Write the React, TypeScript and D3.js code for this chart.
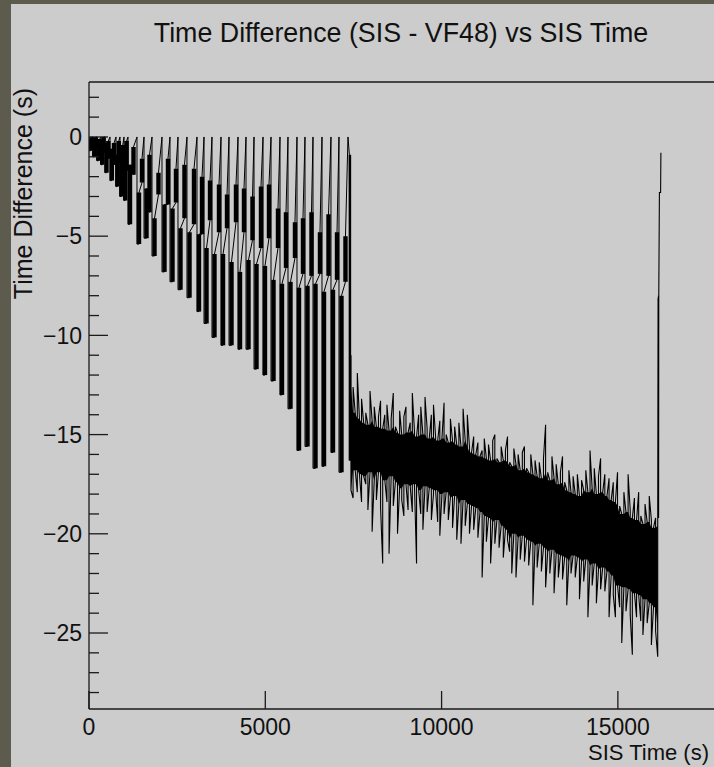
import React, { useEffect } from 'react';
import * as d3 from 'd3';

const W = 714;
const H = 767;
const FONT = '"Liberation Sans", Arial, Helvetica, sans-serif';

const titleText = 'Time Difference (SIS - VF48) vs SIS Time';
const xAxisTitle = 'SIS Time (s)';
const yAxisTitle = 'Time Difference (s)';

// Axis ranges and ticks
const xDomain = [0, 17800];
const yDomain = [2.77, -28.83];
const xMajorTicks = [0, 5000, 10000, 15000];
const yMajorTicks = [0, -5, -10, -15, -20, -25];
const yMinorTicks = [2, 1, -1, -2, -3, -4, -6, -7, -8, -9, -11, -12, -13, -14, -16, -17, -18, -19, -21, -22, -23, -24, -26, -27, -28];

// Sawtooth region (SIS time in s, time difference in s)
const sawResetT = [0, 113, 227, 340, 454, 596, 766, 879, 993, 1106, 1361, 1560, 1787, 2070, 2297, 2524, 2779, 3063, 3262, 3488, 3744, 3971, 4226, 4453, 4680, 4935, 5162, 5417, 5644, 5899, 6126, 6353, 6608, 6863, 7090, 7345];
const sawLowT = [37, 150, 264, 374, 496, 647, 803, 916, 1027, 1163, 1418, 1631, 1858, 2141, 2368, 2595, 2851, 3119, 3333, 3559, 3801, 4042, 4283, 4524, 4751, 4991, 5233, 5473, 5715, 5956, 6197, 6424, 6665, 6920, 7161];
const sawLowTop = [-0.1, -0.2, -0.3, -0.3, -0.3, -0.6, -0.9, -1.2, -0.8, -1.4, -2.8, -2.6, -4.1, -3.4, -3.6, -4.6, -4.8, -4.9, -5.6, -5.9, -5.9, -6.3, -6.8, -6.2, -6.4, -6.5, -7.2, -7.4, -7.3, -7.6, -7.5, -7.4, -7.8, -7.7, -8.0];
const sawLowBot = [-0.7, -1.0, -1.2, -1.4, -1.8, -2.2, -2.5, -3.0, -3.2, -4.4, -5.4, -5.1, -6.0, -6.8, -7.3, -7.7, -8.1, -8.8, -9.4, -10.1, -10.5, -10.5, -10.7, -10.7, -11.7, -12.0, -12.3, -13.0, -13.7, -15.8, -15.6, -16.7, -16.6, -15.9, -16.9];
const sawUpT = [79, 193, 306, 414, 547, 709, 845, 959, 1066, 1262, 1503, 1716, 1971, 2240, 2467, 2708, 2978, 3205, 3432, 3687, 3914, 4169, 4396, 4637, 4878, 5105, 5360, 5587, 5842, 6069, 6310, 6551, 6793, 7034, 7274];
const sawUpTop = [0, 0, -0.1, 0, -0.2, -0.3, -0.2, -0.4, -0.2, -0.5, -1.1, -0.9, -1.8, -1.1, -1.6, -1.4, -1.6, -2.0, -2.2, -2.4, -2.9, -2.4, -2.6, -3.0, -2.5, -2.4, -3.6, -3.8, -4.3, -4.1, -3.8, -4.8, -3.9, -4.8, -5.0];
const sawUpBot = [-0.5, -0.6, -0.8, -0.8, -1.1, -1.4, -1.3, -1.6, -1.7, -1.9, -2.3, -3.8, -2.9, -3.4, -3.3, -4.1, -4.4, -4.9, -4.2, -4.8, -4.6, -4.3, -4.8, -5.2, -5.6, -5.1, -5.6, -6.6, -6.1, -6.9, -7.0, -6.9, -7.0, -7.2, -7.3];

// Drop after the last reset
const dropT = [7385, 7400];
const dropY = [-0.9, -16.3];

// Noisy band region: per sample high/low
const bandT = [7430, 7490, 7550, 7610, 7670, 7730, 7790, 7850, 7910, 7970, 8030, 8090, 8150, 8210, 8270, 8330, 8390, 8450, 8510, 8570, 8630, 8690, 8750, 8810, 8870, 8930, 8990, 9050, 9110, 9170, 9230, 9290, 9350, 9410, 9470, 9530, 9590, 9650, 9710, 9770, 9830, 9890, 9950, 10010, 10070, 10130, 10190, 10250, 10310, 10370, 10430, 10490, 10550, 10610, 10670, 10730, 10790, 10850, 10910, 10970, 11030, 11090, 11150, 11210, 11270, 11330, 11390, 11450, 11510, 11570, 11630, 11690, 11750, 11810, 11870, 11930, 11990, 12050, 12110, 12170, 12230, 12290, 12350, 12410, 12470, 12530, 12590, 12650, 12710, 12770, 12830, 12890, 12950, 13010, 13070, 13130, 13190, 13250, 13310, 13370, 13430, 13490, 13550, 13610, 13670, 13730, 13790, 13850, 13910, 13970, 14030, 14090, 14150, 14210, 14270, 14330, 14390, 14450, 14510, 14570, 14630, 14690, 14750, 14810, 14870, 14930, 14990, 15050, 15110, 15170, 15230, 15290, 15350, 15410, 15470, 15530, 15590, 15650, 15710, 15770, 15830, 15890, 15950, 16010, 16070, 16130];
const bandHi = [-11.0, -12.6, -13.9, -11.9, -14.2, -13.2, -14.4, -13.9, -14.5, -12.8, -14.3, -13.6, -14.6, -14.1, -13.3, -14.7, -14.0, -13.5, -14.8, -14.2, -12.9, -14.6, -14.9, -13.8, -15.0, -14.1, -13.6, -14.9, -14.4, -12.9, -14.8, -15.1, -14.0, -13.6, -15.0, -13.1, -14.7, -15.2, -14.0, -13.5, -15.1, -15.3, -14.3, -15.2, -13.4, -15.0, -15.4, -14.2, -15.3, -14.6, -15.5, -14.4, -15.6, -13.7, -15.3, -14.0, -15.6, -15.9, -15.1, -16.0, -15.4, -16.1, -15.8, -15.2, -16.2, -15.5, -16.3, -15.3, -15.0, -16.2, -16.4, -15.6, -16.3, -15.8, -15.1, -16.4, -16.6, -15.7, -16.5, -16.0, -16.8, -15.9, -15.6, -16.7, -16.9, -16.0, -17.0, -16.3, -17.1, -16.4, -17.2, -16.2, -14.5, -16.9, -17.3, -16.1, -17.2, -16.5, -17.5, -16.9, -16.1, -17.4, -17.8, -16.8, -17.9, -17.1, -18.0, -17.0, -18.1, -17.3, -17.8, -16.8, -17.9, -15.8, -17.7, -16.7, -18.0, -17.1, -16.2, -17.9, -17.0, -18.1, -17.2, -18.3, -17.4, -18.4, -16.9, -18.6, -19.0, -17.9, -18.9, -17.0, -18.8, -19.2, -18.2, -19.3, -17.9, -19.1, -19.5, -18.5, -19.4, -18.1, -19.3, -19.7, -19.2, -19.6];
const bandLo = [-17.8, -18.2, -16.8, -17.9, -17.0, -18.4, -17.1, -17.5, -18.8, -16.9, -19.9, -17.3, -18.3, -16.9, -18.7, -21.5, -17.3, -18.4, -21.0, -17.1, -18.6, -17.4, -20.0, -17.7, -18.3, -19.1, -17.5, -18.8, -17.6, -18.9, -17.5, -21.5, -17.8, -19.0, -19.8, -17.6, -18.9, -17.7, -19.3, -18.0, -17.8, -19.4, -20.1, -18.0, -19.0, -17.9, -19.3, -18.2, -19.7, -18.1, -20.3, -18.5, -20.5, -18.3, -19.6, -18.5, -20.0, -18.6, -19.8, -18.7, -20.2, -18.9, -22.2, -19.1, -20.4, -19.2, -21.5, -19.4, -20.5, -19.3, -20.7, -19.6, -21.2, -19.8, -20.3, -20.9, -22.0, -20.0, -22.2, -20.2, -21.3, -20.1, -21.4, -20.3, -21.6, -20.4, -23.6, -20.6, -21.7, -20.5, -21.9, -20.7, -22.7, -20.9, -22.0, -20.8, -23.0, -21.0, -22.2, -21.1, -22.3, -21.2, -23.6, -21.4, -22.0, -21.1, -22.2, -21.2, -23.3, -21.4, -22.4, -21.3, -24.2, -21.6, -22.6, -21.5, -23.5, -21.8, -22.8, -21.7, -22.9, -21.9, -24.2, -22.1, -23.1, -24.2, -22.6, -23.7, -25.5, -22.7, -23.9, -22.8, -24.1, -26.1, -23.0, -24.2, -23.1, -24.4, -25.1, -23.3, -24.5, -23.5, -25.6, -23.7, -24.9, -26.2];

// Final jump back up
const finalT = [16140, 16145, 16150, 16155, 16160, 16178, 16212, 16220];
const finalY = [-8.1, -19.0, -8.0, -19.2, -8.0, -2.8, -2.8, -0.8];

export default function App() {
  useEffect(() => {
    document.body.style.margin = '0';
  }, []);

  const x = d3.scaleLinear().domain(xDomain).range([89, 716.6]);
  const y = d3.scaleLinear().domain(yDomain).range([82, 709]);

  // Path through the sawtooth region
  const sawPts: [number, number][] = [];
  sawLowT.forEach((_, k) => {
    sawPts.push([sawResetT[k], 0]);
    sawPts.push([sawResetT[k], sawLowBot[k]]);
    sawPts.push([sawLowT[k], sawLowBot[k]]);
    sawPts.push([sawLowT[k], sawLowTop[k]]);
    sawPts.push([sawUpT[k], sawUpBot[k]]);
    sawPts.push([sawUpT[k], sawUpTop[k]]);
  });
  sawPts.push([sawResetT[sawResetT.length - 1], 0]);
  dropT.forEach((t, i) => sawPts.push([t, dropY[i]]));

  const bandPts: [number, number][] = [[dropT[dropT.length - 1], dropY[dropY.length - 1]]];
  bandT.forEach((t, i) => {
    if (i % 2 === 0) {
      bandPts.push([t, bandHi[i]]);
      bandPts.push([t, bandLo[i]]);
    } else {
      bandPts.push([t, bandLo[i]]);
      bandPts.push([t, bandHi[i]]);
    }
  });
  finalT.forEach((t, i) => bandPts.push([t, finalY[i]]));

  // Core of the band: the range covered by every neighbouring sample
  const coreIdx = bandT.map((_, i) => i);
  const win = (arr: number[], i: number) => [arr[Math.max(0, i - 1)], arr[i], arr[Math.min(arr.length - 1, i + 1)]];
  const coreArea = d3
    .area<number>()
    .x((i) => x(bandT[i]))
    .y0((i) => y(d3.max(win(bandLo, i)) as number))
    .y1((i) => y(d3.min(win(bandHi, i)) as number));

  const line = d3
    .line<[number, number]>()
    .x((d) => x(d[0]))
    .y((d) => y(d[1]));

  const frameLeft = x(xDomain[0]);
  const frameRight = x(xDomain[1]);
  const frameTop = y(yDomain[0]);
  const frameBottom = y(yDomain[1]);

  return (
    <svg
      width={W}
      height={H}
      style={{ position: 'absolute', left: 0, top: 0, display: 'block' }}
      fontFamily={FONT}
    >
      <defs>
        <clipPath id="plotClip">
          <rect x={frameLeft} y={frameTop} width={frameRight - frameLeft} height={frameBottom - frameTop} />
        </clipPath>
      </defs>
      <rect x={0} y={0} width={W} height={H} fill="#5d5a4e" />
      <rect x={11} y={4} width={W - 11} height={H - 4} fill="#cccccc" />

      <text x={401} y={42} textAnchor="middle" fontSize={26.8} fill="#111">
        {titleText}
      </text>

      <g clipPath="url(#plotClip)">
        <path d={line(sawPts) || ''} fill="none" stroke="#000" strokeWidth={1} />
        {sawLowT.map((t, k) => (
          <line key={'lb' + k} x1={x(t)} x2={x(t)} y1={y(sawLowTop[k])} y2={y(sawLowBot[k])} stroke="#000" strokeWidth={4.4} />
        ))}
        {sawUpT.map((t, k) => (
          <line key={'ub' + k} x1={x(t)} x2={x(t)} y1={y(sawUpTop[k])} y2={y(sawUpBot[k])} stroke="#000" strokeWidth={4.4} />
        ))}
        <line x1={x(dropT[1])} x2={x(dropT[1])} y1={y(dropY[0])} y2={y(dropY[1])} stroke="#000" strokeWidth={2.5} />
        <path d={coreArea(coreIdx) || ''} fill="#000" stroke="none" />
        <path d={line(bandPts) || ''} fill="none" stroke="#000" strokeWidth={1.1} />
      </g>

      {/* frame */}
      <g stroke="#1a1a1a" strokeWidth={1.3} fill="none">
        <line x1={frameLeft} x2={frameLeft} y1={frameTop} y2={frameBottom} />
        <line x1={frameLeft} x2={frameRight} y1={frameBottom} y2={frameBottom} />
        <line x1={frameLeft} x2={frameRight} y1={frameTop} y2={frameTop} />
      </g>

      {/* ticks */}
      <g stroke="#1a1a1a" strokeWidth={1.3}>
        {yMajorTicks.map((v) => (
          <line key={'ymj' + v} x1={frameLeft} x2={frameLeft + 19} y1={y(v)} y2={y(v)} />
        ))}
        {yMinorTicks.map((v) => (
          <line key={'ymn' + v} x1={frameLeft} x2={frameLeft + 10} y1={y(v)} y2={y(v)} />
        ))}
        {xMajorTicks.map((v) => (
          <line key={'xmj' + v} x1={x(v)} x2={x(v)} y1={frameBottom} y2={frameBottom - 18} />
        ))}
      </g>

      {yMajorTicks.map((v) => (
        <text key={'yl' + v} x={frameLeft - 7} y={y(v)} dy="0.36em" textAnchor="end" fontSize={23} fill="#111">
          {v < 0 ? '\u2212' + Math.abs(v) : String(v)}
        </text>
      ))}
      {xMajorTicks.map((v) => (
        <text key={'xl' + v} x={x(v)} y={735} textAnchor="middle" fontSize={23} fill="#111">
          {String(v)}
        </text>
      ))}

      <text x={709} y={760} textAnchor="end" fontSize={22} fill="#111">
        {xAxisTitle}
      </text>
      <text transform="translate(32,88) rotate(-90)" textAnchor="end" fontSize={25} fill="#111">
        {yAxisTitle}
      </text>
    </svg>
  );
}
